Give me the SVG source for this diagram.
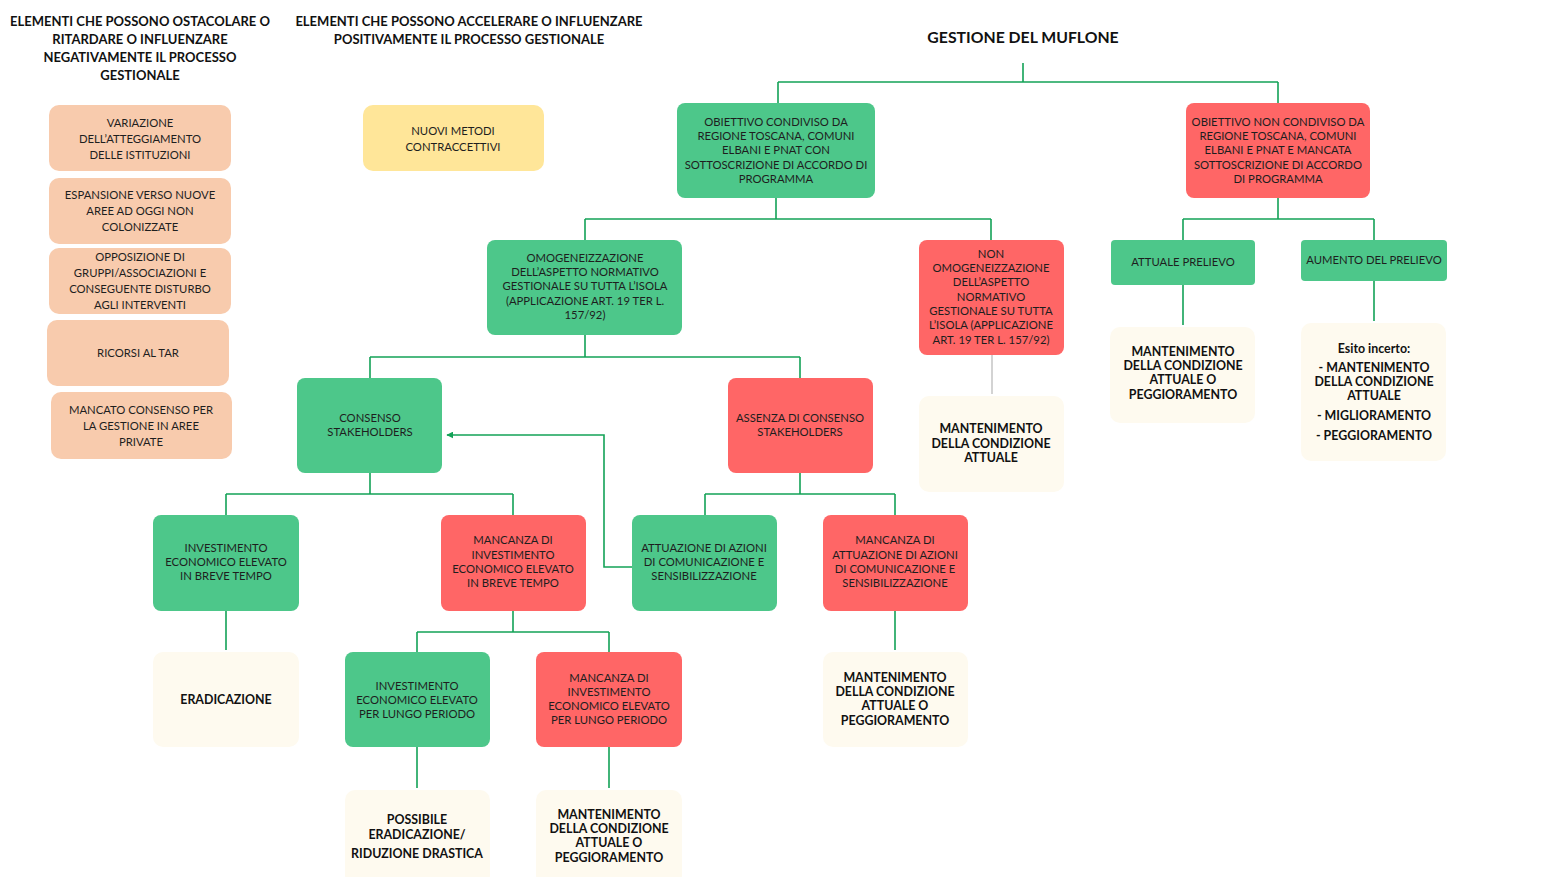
<svg xmlns="http://www.w3.org/2000/svg" width="1544" height="877" viewBox="0 0 1544 877">
<defs>
<style>
text{font-family:Lato,"Open Sans","Liberation Sans",sans-serif;font-size:11.3px;fill:#1e1e1e;text-anchor:middle}
.h{font-weight:bold;font-size:13px;fill:#111}
.t{font-weight:bold;font-size:15.8px;fill:#111}
.b{font-weight:bold;font-size:12.4px;fill:#111}
.g{fill:#4DC78A}
.r{fill:#FF6666}
.p{fill:#F8CBAD}
.y{fill:#FFE699}
.c{fill:#FEFAEF}
.ln{fill:none;stroke:#13A257;stroke-width:1.6}
.gr{fill:none;stroke:#C8C8C8;stroke-width:1.6}
</style>
<marker id="ah" viewBox="0 0 10 10" refX="9" refY="5" markerWidth="7" markerHeight="7" orient="auto" markerUnits="userSpaceOnUse">
<path d="M0,0 L10,5 L0,10 z" fill="#13A257"/>
</marker>
</defs>
<rect width="1544" height="877" fill="#fff"/>

<g id="headers">
<text class="h" x="140" y="26">ELEMENTI CHE POSSONO OSTACOLARE O</text>
<text class="h" x="140" y="44">RITARDARE O INFLUENZARE</text>
<text class="h" x="140" y="62">NEGATIVAMENTE IL PROCESSO</text>
<text class="h" x="140" y="80">GESTIONALE</text>
<text class="h" x="469" y="26">ELEMENTI CHE POSSONO ACCELERARE O INFLUENZARE</text>
<text class="h" x="469" y="44">POSITIVAMENTE IL PROCESSO GESTIONALE</text>
<text class="t" x="1023" y="43">GESTIONE DEL MUFLONE</text>
</g>

<g id="connectors">
<path class="ln" d="M1023,63 V82 M778,82 H1278 M778,82 V103 M1278,82 V103"/>
<path class="ln" d="M776,198 V219 M585,219 H991 M585,219 V240 M991,219 V240"/>
<path class="ln" d="M1278,198 V219 M1183,219 H1374 M1183,219 V240 M1374,219 V240"/>
<path class="ln" d="M1183,285 V325 M1374,281 V321"/>
<path class="gr" d="M992,355 V394"/>
<path class="ln" d="M585,335 V357 M370,357 H800 M370,357 V378 M800,357 V378"/>
<path class="ln" d="M370,473 V494 M226,494 H513 M226,494 V515 M513,494 V515"/>
<path class="ln" d="M800,473 V494 M705,494 H895 M705,494 V515 M895,494 V515"/>
<path class="ln" d="M226,611 V650 M895,611 V650"/>
<path class="ln" d="M513,611 V632 M417,632 H609 M417,632 V652 M609,632 V652"/>
<path class="ln" d="M417,747 V788 M609,747 V788"/>
<path class="ln" d="M632,567 H604 V435 H447" marker-end="url(#ah)"/>
</g>

<g id="neg1"><rect class="p" x="49" y="105" width="182" height="66" rx="10"/>
<text x="140" y="127">VARIAZIONE</text><text x="140" y="143">DELL’ATTEGGIAMENTO</text><text x="140" y="159">DELLE ISTITUZIONI</text></g>
<g id="neg2"><rect class="p" x="49" y="178" width="182" height="66" rx="10"/>
<text x="140" y="199">ESPANSIONE VERSO NUOVE</text><text x="140" y="215">AREE AD OGGI NON</text><text x="140" y="231">COLONIZZATE</text></g>
<g id="neg3"><rect class="p" x="49" y="248" width="182" height="66" rx="10"/>
<text x="140" y="261">OPPOSIZIONE DI</text><text x="140" y="277">GRUPPI/ASSOCIAZIONI E</text><text x="140" y="293">CONSEGUENTE DISTURBO</text><text x="140" y="309">AGLI INTERVENTI</text></g>
<g id="neg4"><rect class="p" x="47" y="320" width="182" height="66" rx="10"/>
<text x="138" y="357">RICORSI AL TAR</text></g>
<g id="neg5"><rect class="p" x="51" y="392" width="181" height="67" rx="10"/>
<text x="141" y="414">MANCATO CONSENSO PER</text><text x="141" y="430">LA GESTIONE IN AREE</text><text x="141" y="446">PRIVATE</text></g>

<g id="pos1"><rect class="y" x="363" y="105" width="181" height="66" rx="10"/>
<text x="453" y="135">NUOVI METODI</text><text x="453" y="151">CONTRACCETTIVI</text></g>

<g id="objYes"><rect class="g" x="677" y="103" width="198" height="95" rx="8"/>
<text x="776" y="126">OBIETTIVO CONDIVISO DA</text><text x="776" y="140">REGIONE TOSCANA, COMUNI</text><text x="776" y="154">ELBANI E PNAT CON</text><text x="776" y="169">SOTTOSCRIZIONE DI ACCORDO DI</text><text x="776" y="183">PROGRAMMA</text></g>
<g id="objNo"><rect class="r" x="1186" y="103" width="184" height="95" rx="8"/>
<text x="1278" y="126">OBIETTIVO NON CONDIVISO DA</text><text x="1278" y="140">REGIONE TOSCANA, COMUNI</text><text x="1278" y="154">ELBANI E PNAT E MANCATA</text><text x="1278" y="169">SOTTOSCRIZIONE DI ACCORDO</text><text x="1278" y="183">DI PROGRAMMA</text></g>

<g id="omog"><rect class="g" x="487" y="240" width="195" height="95" rx="8"/>
<text x="585" y="262">OMOGENEIZZAZIONE</text><text x="585" y="276">DELL’ASPETTO NORMATIVO</text><text x="585" y="290">GESTIONALE SU TUTTA L’ISOLA</text><text x="585" y="305">(APPLICAZIONE ART. 19 TER L.</text><text x="585" y="319">157/92)</text></g>
<g id="nonOmog"><rect class="r" x="919" y="240" width="145" height="115" rx="8"/>
<text x="991" y="258">NON</text><text x="991" y="272">OMOGENEIZZAZIONE</text><text x="991" y="286">DELL’ASPETTO</text><text x="991" y="301">NORMATIVO</text><text x="991" y="315">GESTIONALE SU TUTTA</text><text x="991" y="329">L’ISOLA (APPLICAZIONE</text><text x="991" y="344">ART. 19 TER L. 157/92)</text></g>
<g id="attuale"><rect class="g" x="1111" y="240" width="144" height="45" rx="4"/>
<text x="1183" y="266">ATTUALE PRELIEVO</text></g>
<g id="aumento"><rect class="g" x="1301" y="240" width="146" height="41" rx="4"/>
<text x="1374" y="264">AUMENTO DEL PRELIEVO</text></g>

<g id="resAttuale"><rect class="c" x="1110" y="327" width="145" height="96" rx="10"/>
<text class="b" x="1183" y="356">MANTENIMENTO</text><text class="b" x="1183" y="370">DELLA CONDIZIONE</text><text class="b" x="1183" y="384">ATTUALE O</text><text class="b" x="1183" y="399">PEGGIORAMENTO</text></g>
<g id="resAumento"><rect class="c" x="1301" y="323" width="145" height="138" rx="10"/>
<text class="b" x="1374" y="353">Esito incerto:</text><text class="b" x="1374" y="372">- MANTENIMENTO</text><text class="b" x="1374" y="386">DELLA CONDIZIONE</text><text class="b" x="1374" y="400">ATTUALE</text><text class="b" x="1374" y="420">- MIGLIORAMENTO</text><text class="b" x="1374" y="440">- PEGGIORAMENTO</text></g>
<g id="resNonOmog"><rect class="c" x="919" y="396" width="145" height="96" rx="10"/>
<text class="b" x="991" y="433">MANTENIMENTO</text><text class="b" x="991" y="448">DELLA CONDIZIONE</text><text class="b" x="991" y="462">ATTUALE</text></g>

<g id="consenso"><rect class="g" x="297" y="378" width="145" height="95" rx="8"/>
<text x="370" y="422">CONSENSO</text><text x="370" y="436">STAKEHOLDERS</text></g>
<g id="assenza"><rect class="r" x="728" y="378" width="145" height="95" rx="8"/>
<text x="800" y="422">ASSENZA DI CONSENSO</text><text x="800" y="436">STAKEHOLDERS</text></g>

<g id="invBreve"><rect class="g" x="153" y="515" width="146" height="96" rx="8"/>
<text x="226" y="552">INVESTIMENTO</text><text x="226" y="566">ECONOMICO ELEVATO</text><text x="226" y="580">IN BREVE TEMPO</text></g>
<g id="noInvBreve"><rect class="r" x="441" y="515" width="145" height="96" rx="8"/>
<text x="513" y="544">MANCANZA DI</text><text x="513" y="559">INVESTIMENTO</text><text x="513" y="573">ECONOMICO ELEVATO</text><text x="513" y="587">IN BREVE TEMPO</text></g>
<g id="attuazione"><rect class="g" x="632" y="515" width="145" height="96" rx="8"/>
<text x="704" y="552">ATTUAZIONE DI AZIONI</text><text x="704" y="566">DI COMUNICAZIONE E</text><text x="704" y="580">SENSIBILIZZAZIONE</text></g>
<g id="noAttuazione"><rect class="r" x="823" y="515" width="145" height="96" rx="8"/>
<text x="895" y="544">MANCANZA DI</text><text x="895" y="559">ATTUAZIONE DI AZIONI</text><text x="895" y="573">DI COMUNICAZIONE E</text><text x="895" y="587">SENSIBILIZZAZIONE</text></g>

<g id="eradicazione"><rect class="c" x="153" y="652" width="146" height="95" rx="10"/>
<text class="b" x="226" y="704">ERADICAZIONE</text></g>
<g id="invLungo"><rect class="g" x="345" y="652" width="145" height="95" rx="8"/>
<text x="417" y="690">INVESTIMENTO</text><text x="417" y="704">ECONOMICO ELEVATO</text><text x="417" y="718">PER LUNGO PERIODO</text></g>
<g id="noInvLungo"><rect class="r" x="536" y="652" width="146" height="95" rx="8"/>
<text x="609" y="682">MANCANZA DI</text><text x="609" y="696">INVESTIMENTO</text><text x="609" y="710">ECONOMICO ELEVATO</text><text x="609" y="724">PER LUNGO PERIODO</text></g>
<g id="resNoAttuazione"><rect class="c" x="823" y="652" width="145" height="95" rx="10"/>
<text class="b" x="895" y="682">MANTENIMENTO</text><text class="b" x="895" y="696">DELLA CONDIZIONE</text><text class="b" x="895" y="710">ATTUALE O</text><text class="b" x="895" y="725">PEGGIORAMENTO</text></g>

<g id="resInvLungo"><rect class="c" x="345" y="790" width="145" height="95" rx="10"/>
<text class="b" x="417" y="824">POSSIBILE</text><text class="b" x="417" y="839">ERADICAZIONE/</text><text class="b" x="417" y="858">RIDUZIONE DRASTICA</text></g>
<g id="resNoInvLungo"><rect class="c" x="536" y="790" width="146" height="95" rx="10"/>
<text class="b" x="609" y="819">MANTENIMENTO</text><text class="b" x="609" y="833">DELLA CONDIZIONE</text><text class="b" x="609" y="847">ATTUALE O</text><text class="b" x="609" y="862">PEGGIORAMENTO</text></g>
</svg>
